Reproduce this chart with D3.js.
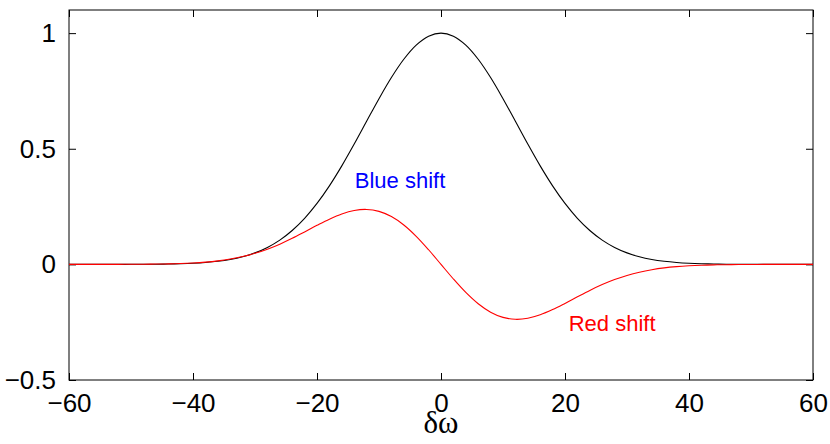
<!DOCTYPE html>
<html>
<head>
<meta charset="utf-8">
<script src="https://cdn.jsdelivr.net/npm/d3@7"></script>
<style>
  body { margin: 0; background: #fff; }
  svg { display: block; }
</style>
</head>
<body>
<script>
var margin = {left:69, right:17, top:10, bottom:64};
const width = 830, height = 444;
const innerWidth = width - margin.left - margin.right;
const innerHeight = height - margin.top - margin.bottom;

// detuning, every 2 units
const dw = [-60,-58,-56,-54,-52,-50,-48,-46,-44,-42,-40,-38,-36,-34,-32,-30,-28,-26,-24,-22,-20,-18,-16,-14,-12,-10,-8,-6,-4,-2,
            0,2,4,6,8,10,12,14,16,18,20,22,24,26,28,30,32,34,36,38,40,42,44,46,48,50,52,54,56,58,60];

// black curve (total)
const total = [0,0,0,0.00003,0.0001,0.00024,0.00046,0.00086,0.00157,0.00279,0.00483,0.00812,0.0133,0.02121,0.03294,0.04979,0.07329,0.10505,0.14661,0.19922,0.2636,0.3396,0.426,0.52031,0.61878,0.71653,0.80788,0.88692,0.94807,0.98676,
               1,0.98676,0.94807,0.88692,0.80788,0.71653,0.61878,0.52031,0.426,0.3396,0.2636,0.19922,0.14661,0.10505,0.07329,0.04979,0.03294,0.02121,0.0133,0.00812,0.00483,0.00279,0.00157,0.00086,0.00046,0.00024,0.0001,0.00003,0,0,0];

// red curve (shift)
const shift = [0,0,0,0.0001,0.0002,0.0004,0.0007,0.0013,0.0022,0.0037,0.0062,0.0099,0.0153,0.0231,0.0337,0.0478,0.0657,0.0874,0.1126,0.1403,0.1687,0.1956,0.2181,0.2331,0.2376,0.2293,0.2068,0.1703,0.1214,0.0632,
               0,-0.0632,-0.1214,-0.1703,-0.2068,-0.2293,-0.2376,-0.2331,-0.2181,-0.1956,-0.1687,-0.1403,-0.1126,-0.0874,-0.0657,-0.0478,-0.0337,-0.0231,-0.0153,-0.0099,-0.0062,-0.0037,-0.0022,-0.0013,-0.0007,-0.0004,-0.0002,-0.0001,0,0,0];

const xTicks = [-60,-40,-20,0,20,40,60];
const yTicks = [-0.5,0,0.5,1];

const labels = [
  {text: "Blue shift", x: -13.9, y: 0.33, color: "#0000ff"},
  {text: "Red shift",  x: 20.6,  y: -0.29, color: "#ff0000"}
];

var svg = d3.select("body")
  .append("svg")
    .attr("width", width)
    .attr("height", height);

const g = svg.append("g")
  .attr("transform", `translate(${margin.left},${margin.top})`);

const x = d3.scaleLinear()
  .domain([-60, 60])
  .range([0, innerWidth]);

const y = d3.scaleLinear()
  .domain([-0.5, 1.1])
  .range([innerHeight, 0]);

const tickFont = "Liberation Sans, Arial, sans-serif";
const fmt = d => d < 0 ? "\u2212" + Math.abs(d) : String(d);

// box
g.append("rect")
  .attr("x", 0).attr("y", 0)
  .attr("width", innerWidth).attr("height", innerHeight)
  .attr("fill", "none")
  .attr("stroke", "#000")
  .attr("stroke-width", 1);

// axes with inward ticks (mirrored on top/right)
const xAxis = g.append("g")
  .attr("transform", `translate(0,${innerHeight})`)
  .call(d3.axisBottom(x).tickValues(xTicks).tickSize(-7).tickPadding(14).tickFormat(fmt));
g.append("g")
  .call(d3.axisTop(x).tickValues(xTicks).tickSize(-7).tickFormat(""));
const yAxis = g.append("g")
  .call(d3.axisLeft(y).tickValues(yTicks).tickSize(-7).tickPadding(13).tickFormat(fmt));
g.append("g")
  .attr("transform", `translate(${innerWidth},0)`)
  .call(d3.axisRight(y).tickValues(yTicks).tickSize(-7).tickFormat(""));

g.selectAll(".domain").remove();
g.selectAll(".tick line").attr("stroke", "#000");
g.selectAll(".tick text")
  .attr("fill", "#000")
  .attr("font-family", tickFont)
  .attr("font-size", 26);

// curves
const line = d3.line()
  .x((d, i) => x(dw[i]))
  .y(d => y(d))
  .curve(d3.curveCatmullRom.alpha(0.5));

g.append("path")
  .datum(total)
  .attr("fill", "none")
  .attr("stroke", "#000")
  .attr("stroke-width", 1.1)
  .attr("d", line);

g.append("path")
  .datum(shift)
  .attr("fill", "none")
  .attr("stroke", "#ff0000")
  .attr("stroke-width", 1.1)
  .attr("d", line);

// annotations
g.selectAll(".note")
  .data(labels)
  .join("text")
    .attr("class", "note")
    .attr("x", d => x(d.x))
    .attr("y", d => y(d.y))
    .attr("fill", d => d.color)
    .attr("font-family", tickFont)
    .attr("font-size", 22)
    .text(d => d.text);

// x label
g.append("text")
  .attr("x", x(0))
  .attr("y", innerHeight + 53)
  .attr("text-anchor", "middle")
  .attr("font-family", "Liberation Serif, Times New Roman, serif")
  .attr("font-size", 31)
  .text("\u03b4\u03c9");
</script>
</body>
</html>
